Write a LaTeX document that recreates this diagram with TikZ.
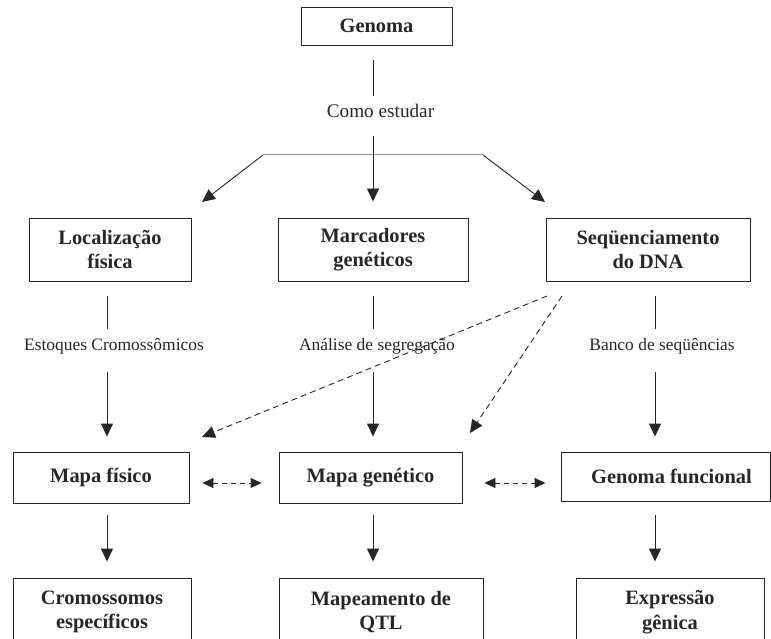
\documentclass[tikz,border=0pt]{standalone}
\usepackage{fontspec}
\setmainfont{Liberation Serif}
\usetikzlibrary{arrows.meta}
\definecolor{ink}{HTML}{262626}
\begin{document}
\begin{tikzpicture}[x=1bp,y=-1bp,
  box/.style={draw=ink, line width=0.9bp, text=ink, font=\fontsize{20.5}{24.5}\selectfont\bfseries, align=center, inner sep=0},
  lab/.style={text=ink, font=\fontsize{17.5}{20}\selectfont, inner sep=0},
  ln/.style={draw=ink, line width=0.9bp},
  arr/.style={ln, -{Triangle[width=12bp,length=13bp]}},
  darr/.style={ln, dash pattern=on 6bp off 4bp, -{Triangle[width=12bp,length=13bp]}},
  dbl/.style={ln, dash pattern=on 5bp off 4bp, {Triangle[width=10bp,length=11bp]}-{Triangle[width=10bp,length=11bp]}}]
\useasboundingbox (0,0) rectangle (771,639);
\clip (0,0) rectangle (771,639);
% columns
\coordinate (c1) at (107,0);
\coordinate (c2) at (373,0);
\coordinate (c3) at (655,0);
% boxes
\node[box, minimum width=151bp, minimum height=38bp] (genoma) at (376.5,26) {Genoma};
\node[box, minimum width=162bp, minimum height=63bp] (loc) at (110,249.5) {Localização\\física};
\node[box, minimum width=190bp, minimum height=63bp] (marc) at (373,249.5) {Marcadores\\genéticos};
\node[box, minimum width=204bp, minimum height=63bp] (seq) at (648,249.5) {Seqüenciamento\\do DNA};
\node[box, minimum width=176bp, minimum height=51bp] (mapaf) at (101,477.5) {Mapa físico};
\node[box, minimum width=183bp, minimum height=51bp] (mapag) at (370.5,477.5) {Mapa genético};
\node[box, minimum width=209bp, minimum height=49bp] (genf) at (665.5,476.5) {\hspace*{12bp}Genoma funcional};
\node[box, minimum width=178bp, minimum height=68bp] (crom) at (102,612) {Cromossomos\\específicos};
\node[box, minimum width=204bp, minimum height=68bp] (qtl) at (381,612) {Mapeamento de\\QTL};
\node[box, minimum width=188bp, minimum height=68bp] (expr) at (670,612) {Expressão\\gênica};
% labels
\node[lab, font=\fontsize{19.3}{22}\selectfont] (como) at (380.5,111) {Como estudar};
\node[lab] (est) at (114,346) {Estoques Cromossômicos};
\node[lab] (anal) at (377,346) {Análise de segregação};
\node[lab] (banco) at (662,346) {Banco de seqüências};
% top branch
\coordinate (jl) at (263,155);
\coordinate (jr) at (483,155);
\coordinate (tl) at (202,202);
\coordinate (tr) at (545,202);
\draw[ln, shorten <=15bp, shorten >=8bp] (genoma.south -| c2) -- (como.north -| c2);
\draw[draw=black!45, line width=1bp] (jl) -- (jr);
\draw[arr, shorten <=18bp, shorten >=16bp] (como.south -| c2) -- (marc.north -| c2);
\draw[arr] (jl) -- (tl);
\draw[arr] (jr) -- (tr);
% row 2 to row 3
\draw[ln, shorten <=15bp, shorten >=9bp] (loc.south -| c1) -- (est.north -| c1);
\draw[arr, shorten <=18bp, shorten >=15bp] (est.south -| c1) -- (mapaf.north -| c1);
\draw[ln, shorten <=15bp, shorten >=9bp] (marc.south -| c2) -- (anal.north -| c2);
\draw[arr, shorten <=18bp, shorten >=15bp] (anal.south -| c2) -- (mapag.north -| c2);
\draw[ln, shorten <=15bp, shorten >=9bp] (seq.south -| c3) -- (banco.north -| c3);
\draw[arr, shorten <=18bp, shorten >=15bp] (banco.south -| c3) -- (genf.north -| c3);
% dashed from sequencing
\coordinate (d1) at (547,296);
\coordinate (d2) at (562,296);
\coordinate (e1) at (202,437);
\coordinate (e2) at (470,433);
\draw[darr] (d1) -- (e1);
\draw[darr] (d2) -- (e2);
% double dashed
\draw[dbl, shorten <=13bp, shorten >=17bp] ([yshift=-5.5bp]mapaf.east) -- ([yshift=-5.5bp]mapaf.east -| mapag.west);
\draw[dbl, shorten <=22bp, shorten >=15bp] ([yshift=-5.5bp]mapag.east) -- ([yshift=-5.5bp]mapag.east -| genf.west);
% bottom arrows
\draw[arr, shorten <=12bp, shorten >=16bp] (mapaf.south -| c1) -- (crom.north -| c1);
\draw[arr, shorten <=12bp, shorten >=16bp] (mapag.south -| c2) -- (qtl.north -| c2);
\draw[arr, shorten <=14bp, shorten >=16bp] (genf.south -| c3) -- (expr.north -| c3);
\end{tikzpicture}
\end{document}
